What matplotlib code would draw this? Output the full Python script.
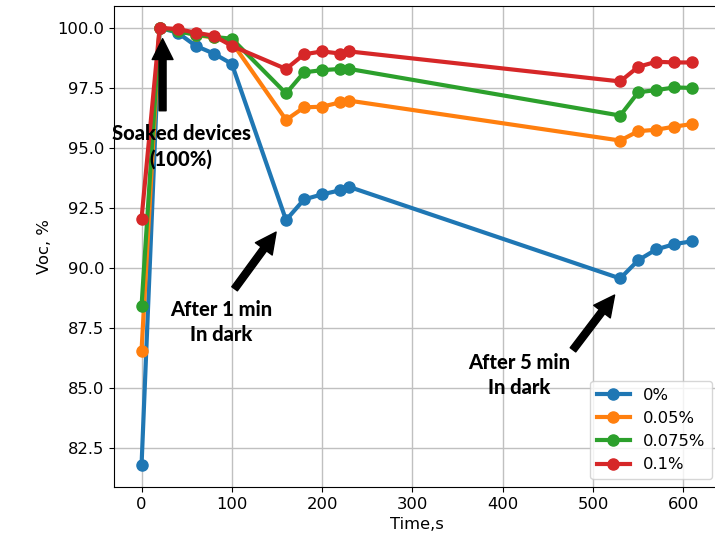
import numpy as np
import matplotlib as mpl
import matplotlib.pyplot as plt

mpl.rc('font', size=11.8)

# Voc recovery, normalised to the soaked value
time_s = [0, 20, 40, 60, 80, 100, 160, 180, 200, 220, 230, 530, 550, 570, 590, 610]
voc_0 = [81.8, 100.0, 99.8, 99.25, 98.93, 98.5, 92.0, 92.86, 93.07, 93.24, 93.38,
         89.57, 90.33, 90.78, 91.0, 91.12]
voc_005 = [86.57, 100.0, 99.9, 99.7, 99.6, 99.4, 96.17, 96.69, 96.72, 96.9, 96.97,
           95.31, 95.7, 95.76, 95.89, 96.0]
voc_0075 = [88.42, 100.0, 99.85, 99.72, 99.62, 99.55, 97.27, 98.15, 98.24, 98.29, 98.29,
            96.35, 97.32, 97.41, 97.52, 97.5]
voc_01 = [92.06, 100.0, 99.95, 99.8, 99.67, 99.25, 98.29, 98.9, 99.02, 98.93, 99.02,
          97.77, 98.38, 98.59, 98.56, 98.56]
labels = ['0%', '0.05%', '0.075%', '0.1%']

fig = plt.figure(figsize=(7.15, 5.42), dpi=100)
ax = fig.add_axes((114/715, 55/542, 606/715, 481/542))

for vals, lab in zip([voc_0, voc_005, voc_0075, voc_01], labels):
    ax.plot(time_s, vals, '-o', lw=3, ms=8, label=lab)

ax.set_xlim(-30.5, 640.5)
ax.set_ylim(80.89, 100.91)
ax.set_yticks(np.arange(82.5, 100.1, 2.5))
ax.grid(True, color='#c0c0c0', lw=1)
ax.set_xlabel('Time,s')
ax.set_ylabel('Voc, %')
ax.legend(loc='lower right')

arrow = dict(facecolor='black', edgecolor='black', width=5, headwidth=15,
             headlength=15, shrink=0)
note = dict(fontsize=14.5, fontweight='black', family='Lato', ha='center',
            va='center', linespacing=1.35)

ax.annotate('', xy=(23.3, 99.55), xytext=(23.3, 96.55), arrowprops=arrow)
ax.text(44, 95.06, 'Soaked devices\n(100%)', **note)

ax.annotate('', xy=(149, 91.5), xytext=(103, 89.14), arrowprops=arrow)
ax.text(88.3, 87.76, 'After 1 min\nIn dark', **note)

ax.annotate('', xy=(523.8, 88.88), xytext=(477.7, 86.6), arrowprops=arrow)
ax.text(418.6, 85.56, 'After 5 min\nIn dark', **note)

fig.savefig('out.png', dpi=100)
